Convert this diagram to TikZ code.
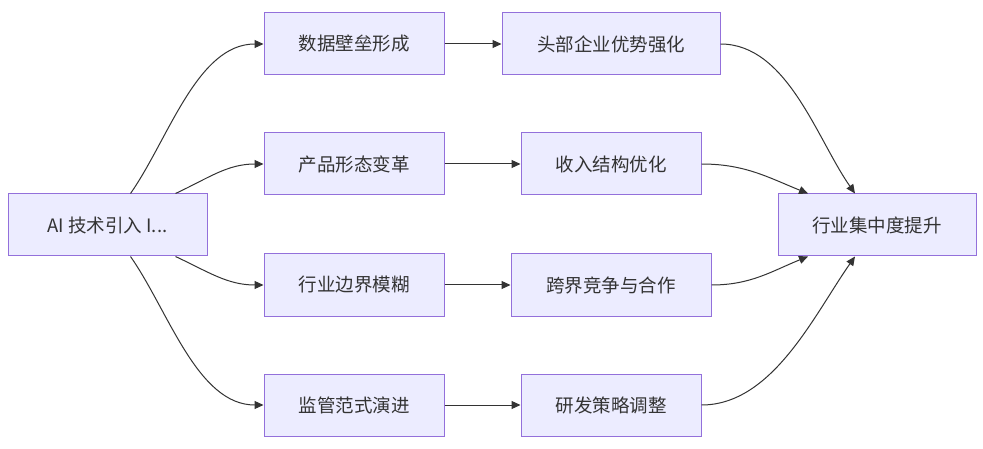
\documentclass[tikz,border=0pt]{standalone}
\usepackage{fontspec}
\setmainfont{Noto Sans CJK SC}
\usepackage{tikz}
\usetikzlibrary{arrows.meta}
\definecolor{boxfill}{HTML}{ECECFF}
\definecolor{boxline}{HTML}{9370DB}
\definecolor{edgeline}{HTML}{333333}

\begin{document}
\begin{tikzpicture}[x=1pt,y=-1pt,
			      box/.style={rectangle, draw=boxline, fill=boxfill, line width=1pt,
				      minimum height=62pt, text=edgeline, font=\fontsize{18.5}{22}\selectfont},
			      flow/.style={draw=edgeline, line width=1pt, -{Triangle[length=9pt,width=8pt]}}]
		      \useasboundingbox (0,0) rectangle (983,449);
		      \node[box, minimum width=199pt] (ai) at (107.5,225) {AI 技术引入 I...};
		      % middle column
		      \node[box, minimum width=180pt] (wall) at (354,44) {数据壁垒形成};
		      \node[box, minimum width=180pt] (prod) at (354,164) {产品形态变革};
		      \node[box, minimum width=180pt] (bound) at (354,285) {行业边界模糊};
		      \node[box, minimum width=180pt] (rule) at (354,405) {监管范式演进};
		      % right column
		      \node[box, minimum width=218pt] (lead) at (611,44) {头部企业优势强化};
		      \node[box, minimum width=180pt] (income) at (611,164) {收入结构优化};
		      \node[box, minimum width=200pt] (cross) at (611,285) {跨界竞争与合作};
		      \node[box, minimum width=180pt] (rnd) at (611,405) {研发策略调整};
		      \node[box, minimum width=198pt] (conc) at (877,225) {行业集中度提升};
		      % edges
		      \draw[flow] ([xshift=23pt]ai.north) to[out=55,in=180,looseness=0.85] (wall.west);
		      \draw[flow] ([xshift=-32pt]ai.north east) to[out=25,in=180] (prod.west);
		      \draw[flow] ([xshift=-32pt]ai.south east) to[out=-25,in=180] (bound.west);
		      \draw[flow] ([xshift=23pt]ai.south) to[out=-55,in=180,looseness=0.85] (rule.west);
		      \draw[flow] (wall) -- (lead);
		      \draw[flow] (prod) -- (income);
		      \draw[flow] (bound) -- (cross);
		      \draw[flow] (rule) -- (rnd);
		      \draw[flow] (lead.east) to[out=0,in=125,looseness=0.85] ([xshift=-22pt]conc.north);
		      \draw[flow] (income.east) to[out=0,in=158] ([xshift=-69pt]conc.north);
		      \draw[flow] (cross.east) to[out=0,in=202] ([xshift=-69pt]conc.south);
		      \draw[flow] (rnd.east) to[out=0,in=235,looseness=0.85] ([xshift=-22pt]conc.south);
	      \end{tikzpicture}
\end{document}
